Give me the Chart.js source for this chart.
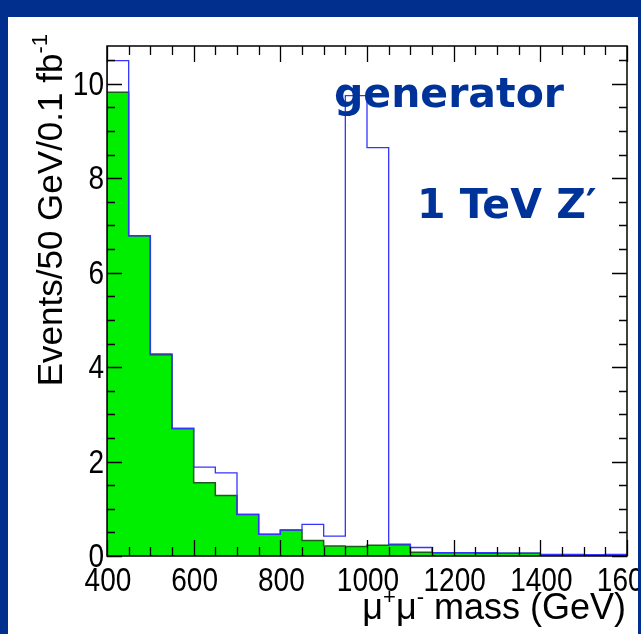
<!DOCTYPE html>
<html>
<head>
<meta charset="utf-8">
<script src="https://cdn.jsdelivr.net/npm/chart.js@4.4.1/dist/chart.umd.min.js"></script>
<style>
  html, body { margin: 0; padding: 0; background: #002f8e; overflow: hidden; }
  canvas { display: block; }
</style>
</head>
<body>
<canvas id="c" width="641" height="634"></canvas>
<script>
// Dimuon invariant mass, 50 GeV bins, events per 0.1 fb^-1
const binLowEdges = [400, 450, 500, 550, 600, 650, 700, 750, 800, 850, 900, 950,
                     1000, 1050, 1100, 1150, 1200, 1250, 1300, 1350, 1400, 1450, 1500, 1550];
const binUpperEdge = 1600;

// Drell-Yan background (filled)
const background = [9.82, 6.78, 4.26, 2.70, 1.55, 1.28, 0.88, 0.46, 0.55, 0.33, 0.21, 0.20,
                    0.23, 0.24, 0.08, 0.07, 0.07, 0.06, 0.06, 0.06, 0.03, 0.03, 0.02, 0.03];

// 1 TeV Z' signal plus background (outline)
const signalPlusBackground = [10.49, 6.78, 4.28, 2.70, 1.88, 1.76, 0.88, 0.46, 0.55, 0.67, 0.42, 9.75,
                              8.65, 0.25, 0.18, 0.07, 0.07, 0.07, 0.06, 0.06, 0.03, 0.03, 0.03, 0.03];

const xTickValues = [400, 600, 800, 1000, 1200, 1400, 1600];
const xTickLabels = ['400', '600', '800', '1000', '1200', '1400', '1600'];
const yTickValues = [0, 2, 4, 6, 8, 10];
const yTickLabels = ['0', '2', '4', '6', '8', '10'];
const xMinorStep = 50;
const yMinorStep = 0.5;
const yMax = 10.8;

const FRAME_BLUE = '#002f8e';
const TEXT_BLUE = '#003399';
const LABEL_FONT = '"Liberation Sans", Arial, sans-serif';
const TICK_SIZE = 33;
const TICK_SQUEEZE = 0.85;   // narrow digits of the axis numbers

// Histogram outline as a step line: each bin value holds until the next edge
function histogramPoints(values) {
  const pts = [{ x: binLowEdges[0], y: 0 }];
  values.forEach((v, i) => pts.push({ x: binLowEdges[i], y: v }));
  pts.push({ x: binUpperEdge, y: values[values.length - 1] });
  pts.push({ x: binUpperEdge, y: 0 });
  return pts;
}

// Text with raised superscript pieces, e.g. mu^{+}mu^{-}
function drawRichText(ctx, parts, x, y, size, align) {
  const supSize = Math.round(size * 0.62);
  const widths = parts.map(p => {
    ctx.font = (p.sup ? supSize : size) + 'px ' + LABEL_FONT;
    return ctx.measureText(p.t).width;
  });
  const total = widths.reduce((a, b) => a + b, 0);
  let cx = align === 'right' ? x - total : x;
  parts.forEach((p, i) => {
    ctx.font = (p.sup ? supSize : size) + 'px ' + LABEL_FONT;
    ctx.fillText(p.t, cx, p.sup ? y - size * 0.42 : y);
    cx += widths[i];
  });
}

// Axis number in narrow digits, anchored at (x, y)
function drawTickLabel(ctx, text, x, y, align, baseline) {
  ctx.save();
  ctx.translate(x, y);
  ctx.scale(TICK_SQUEEZE, 1);
  ctx.font = TICK_SIZE + 'px ' + LABEL_FONT;
  ctx.textAlign = align;
  ctx.textBaseline = baseline;
  ctx.fillText(text, 0, 0);
  ctx.restore();
}

const framePlugin = {
  id: 'rootFrame',
  beforeDraw(chart) {
    const ctx = chart.ctx;
    ctx.save();
    ctx.fillStyle = FRAME_BLUE;
    ctx.fillRect(0, 0, chart.width, chart.height);
    ctx.fillStyle = '#ffffff';
    ctx.fillRect(8, 17, 630, chart.height - 17);
    ctx.restore();
  },
  afterDatasetsDraw(chart) {
    const ctx = chart.ctx;
    const xs = chart.scales.x, ys = chart.scales.y;
    const a = chart.chartArea;
    ctx.save();
    ctx.strokeStyle = '#000000';
    ctx.lineWidth = 1.5;
    ctx.strokeRect(a.left, a.top, a.right - a.left, a.bottom - a.top);

    // inward ticks on all four sides
    ctx.lineWidth = 1.3;
    ctx.beginPath();
    for (let v = xs.min; v <= xs.max + 1e-6; v += xMinorStep) {
      const px = Math.round(xs.getPixelForValue(v)) + 0.5;
      const len = xTickValues.includes(v) ? 16 : 9;
      ctx.moveTo(px, a.bottom); ctx.lineTo(px, a.bottom - len);
      ctx.moveTo(px, a.top); ctx.lineTo(px, a.top + len);
    }
    for (let v = 0; v <= ys.max + 1e-6; v += yMinorStep) {
      const py = Math.round(ys.getPixelForValue(v)) + 0.5;
      const len = yTickValues.includes(Math.round(v * 100) / 100) ? 15 : 8;
      ctx.moveTo(a.left, py); ctx.lineTo(a.left + len, py);
      ctx.moveTo(a.right, py); ctx.lineTo(a.right - len, py);
    }
    ctx.stroke();

    // axis numbers
    ctx.fillStyle = '#000000';
    xTickValues.forEach((v, i) => {
      drawTickLabel(ctx, xTickLabels[i], xs.getPixelForValue(v) + 1, a.bottom + 35, 'center', 'alphabetic');
    });
    yTickValues.forEach((v, i) => {
      drawTickLabel(ctx, yTickLabels[i], a.left - 3, ys.getPixelForValue(v) + 11, 'right', 'alphabetic');
    });

    // annotations
    ctx.fillStyle = TEXT_BLUE;
    ctx.font = 'bold 41px "DejaVu Sans", Verdana, sans-serif';
    ctx.textBaseline = 'alphabetic';
    ctx.textAlign = 'left';
    ctx.fillText('generator', 334, 107);
    ctx.fillText('1 TeV Z\u2032', 417, 218);

    // axis titles
    ctx.fillStyle = '#000000';
    drawRichText(ctx, [{ t: '\u03bc' }, { t: '+', sup: true }, { t: '\u03bc' }, { t: '-', sup: true },
                       { t: ' mass (GeV)' }], 626, 619, 36, 'right');
    ctx.translate(62, 34);
    ctx.rotate(-Math.PI / 2);
    drawRichText(ctx, [{ t: 'Events/50 GeV/0.1 fb' }, { t: '-1', sup: true }], 0, 0, 35, 'right');
    ctx.restore();
  },
  afterDraw(chart) {
    const ctx = chart.ctx;
    ctx.save();
    ctx.fillStyle = FRAME_BLUE;
    ctx.fillRect(638, 0, chart.width - 638, chart.height);
    ctx.restore();
  }
};

new Chart(document.getElementById('c'), {
  type: 'line',
  data: {
    datasets: [
      {
        label: "Z' + DY",
        data: histogramPoints(signalPlusBackground),
        stepped: true,
        borderColor: '#3535ff',
        borderWidth: 1.3,
        fill: false,
        pointRadius: 0,
        order: 0
      },
      {
        label: 'DY',
        data: histogramPoints(background),
        stepped: true,
        borderColor: '#1d5a1d',
        borderWidth: 1.5,
        backgroundColor: '#00ee00',
        fill: 'origin',
        pointRadius: 0,
        order: 1
      }
    ]
  },
  options: {
    responsive: false,
    animation: false,
    events: [],
    layout: { padding: { left: 0, top: 46, right: 14, bottom: 0 } },
    plugins: { legend: { display: false }, tooltip: { enabled: false } },
    scales: {
      x: {
        type: 'linear',
        min: 400,
        max: 1600,
        grid: { display: false, drawTicks: false },
        border: { display: false },
        ticks: { display: false },
        afterBuildTicks(s) { s.ticks = xTickValues.map(v => ({ value: v })); },
        afterFit(s) { s.height = 78; s.paddingLeft = 0; s.paddingRight = 0; }
      },
      y: {
        min: 0,
        max: yMax,
        grid: { display: false, drawTicks: false },
        border: { display: false },
        ticks: { display: false },
        afterBuildTicks(s) { s.ticks = yTickValues.map(v => ({ value: v })); },
        afterFit(s) { s.width = 107; s.paddingTop = 0; s.paddingBottom = 0; }
      }
    }
  },
  plugins: [framePlugin]
});
</script>
</body>
</html>
